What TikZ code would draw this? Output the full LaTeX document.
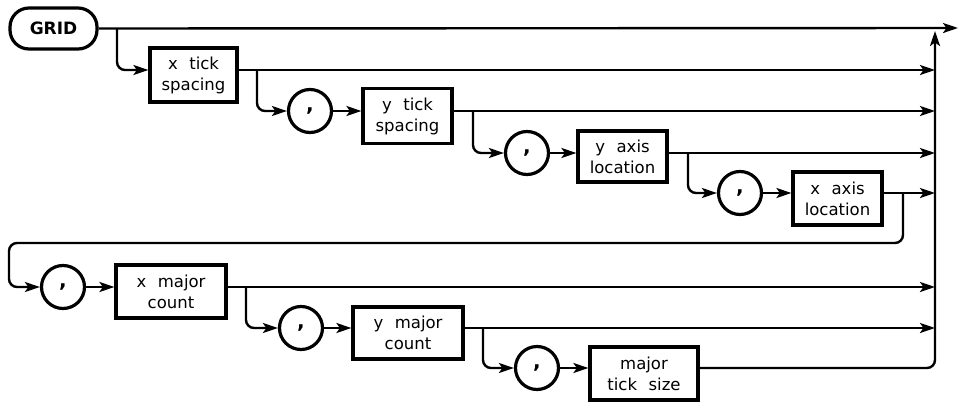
\documentclass[tikz,border=0pt]{standalone}
\usepackage{fontspec}
\setmainfont{DejaVu Sans}
\usetikzlibrary{arrows.meta}
\begin{document}
\begin{tikzpicture}[x=1pt,y=-1pt,
  conn/.style={line width=2.4pt, rounded corners=8pt},
  arr/.style={-{Stealth[length=15pt,width=10pt,inset=3.5pt]}},
  box/.style={draw, line width=3.2pt, align=center, inner sep=0pt,
    font=\fontsize{16.5}{21}\selectfont},
  comma/.style={draw, circle, line width=3.2pt, minimum size=43pt, inner sep=0pt,
    font=\fontsize{20}{20}\selectfont\bfseries},
  term/.style={draw, line width=3.2pt, rounded corners=19pt, minimum width=87pt,
    minimum height=41pt, inner sep=0pt, font=\fontsize{17}{17}\selectfont\bfseries}]
\useasboundingbox (0,0) rectangle (959,402);
\newcommand{\gap}{\hspace{0.7em}}
% nodes
\node[term] (grid) at (53.5,28.5) {GRID};
\node[box, minimum width=87pt, minimum height=54pt] (xts) at (193.5,75) {x\gap tick\\spacing};
\node[comma] (c1) at (310,111) {,};
\node[box, minimum width=89pt, minimum height=55pt] (yts) at (407.5,116) {y\gap tick\\spacing};
\node[comma] (c2) at (527,153) {,};
\node[box, minimum width=89pt, minimum height=51pt] (yal) at (622.5,156.5) {y\gap axis\\location};
\node[comma] (c3) at (740,193) {,};
\node[box, minimum width=89pt, minimum height=53pt] (xal) at (837.5,198.5) {x\gap axis\\location};
\node[comma] (c4) at (63,287) {,};
\node[box, minimum width=110pt, minimum height=53pt] (xmc) at (171,291.5) {x\gap major\\count};
\node[comma] (c5) at (301,328) {,};
\node[box, minimum width=110pt, minimum height=52pt] (ymc) at (408,333) {y\gap major\\count};
\node[comma] (c6) at (537,368) {,};
\node[box, minimum width=108pt, minimum height=53pt] (mts) at (644,373.5) {major\\tick\gap size};
% coordinates
\coordinate (endp) at (958,28);
\coordinate (vtop) at (935,31);
\coordinate (v1) at (935,70);
\coordinate (v2) at (935,111);
\coordinate (v3) at (935,153);
\coordinate (v4) at (935,193);
\coordinate (v5) at (935,287);
\coordinate (v6) at (935,328);
\coordinate (v7) at (935,368);
\coordinate (b1) at (117,28);
\coordinate (b2) at (257,70);
\coordinate (b3) at (473,111);
\coordinate (b4) at (688,153);
\coordinate (b5) at (903,193);
\coordinate (w1) at (903,243);
\coordinate (w2) at (9,243);
\coordinate (b6) at (246,287);
\coordinate (b7) at (483,328);
% main line
\draw[conn,arr] (grid.east) -- (endp);
% row 1
\draw[conn,arr] (b1) |- (xts.west |- v1);
\draw[conn,arr] (xts.east |- v1) -- (v1);
% row 2
\draw[conn,arr] (b2) |- (c1.west);
\draw[conn,arr] (c1.east) -- (yts.west |- c1);
\draw[conn,arr] (yts.east |- v2) -- (v2);
% row 3
\draw[conn,arr] (b3) |- (c2.west);
\draw[conn,arr] (c2.east) -- (yal.west |- c2);
\draw[conn,arr] (yal.east |- v3) -- (v3);
% row 4
\draw[conn,arr] (b4) |- (c3.west);
\draw[conn,arr] (c3.east) -- (xal.west |- c3);
\draw[conn,arr] (xal.east |- v4) -- (v4);
% wrap to row 5
\draw[conn,arr] (b5) -- (w1) -- (w2) |- (c4.west);
\draw[conn,arr] (c4.east) -- (xmc.west |- c4);
\draw[conn,arr] (xmc.east |- v5) -- (v5);
% row 6
\draw[conn,arr] (b6) |- (c5.west);
\draw[conn,arr] (c5.east) -- (ymc.west |- c5);
\draw[conn,arr] (ymc.east |- v6) -- (v6);
% row 7
\draw[conn,arr] (b7) |- (c6.west);
\draw[conn,arr] (c6.east) -- (mts.west |- c6);
\draw[conn,arr] (mts.east |- v7) -- (v7) -- (vtop);
\end{tikzpicture}
\end{document}
